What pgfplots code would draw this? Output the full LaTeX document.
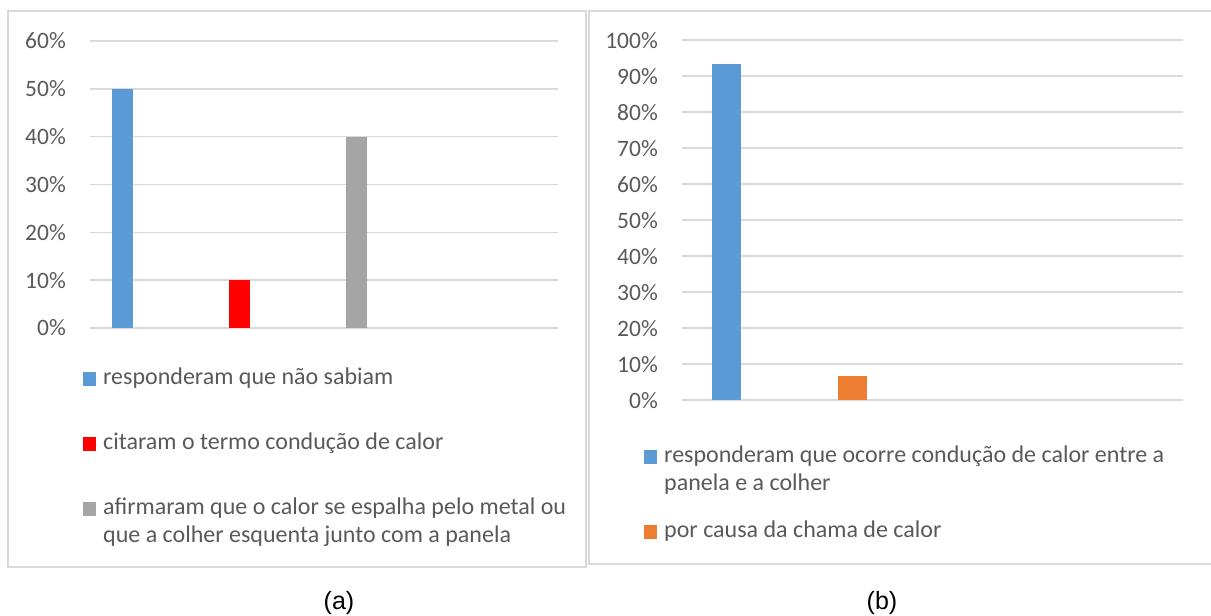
\documentclass[border=0pt]{standalone}
\usepackage{fontspec}
\setmainfont{Carlito}
\newfontfamily\arialfont{Liberation Sans}
\usepackage{pgfplots}
\pgfplotsset{compat=1.18}
\definecolor{cblue}{HTML}{5B9BD5}
\definecolor{cred}{HTML}{FF0000}
\definecolor{cgray}{HTML}{A5A5A5}
\definecolor{corange}{HTML}{ED7D31}
\definecolor{ctext}{HTML}{595959}
\definecolor{cgrid}{HTML}{D9D9D9}
\pgfplotsset{
  common/.style={
    scale only axis, anchor=south west, clip=false,
    ybar, bar shift=0pt,
    enlargelimits=false, ymin=0,
    axis line style={draw=none},
    xtick=\empty, major tick length=0pt,
    ymajorgrids, grid style={cgrid, line width=1.6pt},
    /pgf/number format/assume math mode=true,
    yticklabel={\pgfmathprintnumber{\tick}\%},
    yticklabel style={anchor=east, inner sep=0pt, xshift=-24pt, text=ctext, font=\fontsize{23.5}{28}\selectfont},
    legend image code/.code={\fill[##1,draw=none] (0pt,-7pt) rectangle (13pt,7pt);},
    legend cell align=left,
    legend style={draw=none, fill=none, inner sep=0pt, column sep=0pt, anchor=north west,
      font=\fontsize{24}{28}\selectfont, text=ctext,
      cells={anchor=west},
      nodes={inner xsep=7pt, inner ysep=0pt, text height=17pt, text depth=6pt}},
  }
}
\begin{document}
\begin{tikzpicture}[x=1pt,y=1pt]
\useasboundingbox (0,0) rectangle (1211,616);
% panel frames
\draw[cgrid, line width=2pt] (8,605) rectangle (586,49);
\draw[cgrid, line width=2pt] (1212,605) -- (589,605) -- (589,52) -- (1212,52);
% left chart
\begin{axis}[common, at={(90pt,288pt)}, width=468pt, height=287pt,
  xmin=90, xmax=558, ymax=60, ytick={0,10,...,60}, bar width=21,
  legend style={at={(-0.015,-0.136)}, row sep=42pt}]
\addplot[fill=cblue, draw=none] coordinates {(122,50)};
\addlegendentry{responderam que não sabiam}
\addplot[fill=cred, draw=none] coordinates {(239,10)};
\addlegendentry{citaram o termo condução de calor}
\addplot[fill=cgray, draw=none] coordinates {(356,40)};
\addlegendentry{\parbox[t]{500pt}{afirmaram que o calor se espalha pelo metal ou\\que a colher esquenta junto com a panela}}
\end{axis}
% right chart
\begin{axis}[common, at={(682pt,215.7pt)}, width=501pt, height=360pt,
  xmin=682, xmax=1183, ymax=100, ytick={0,10,...,100}, bar width=29,
  legend style={at={(-0.0758,-0.124)}, row sep=52pt}]
\addplot[fill=cblue, draw=none] coordinates {(726.5,93.3)};
\addlegendentry{\parbox[t]{530pt}{responderam que ocorre condução de calor entre a\\panela e a colher}}
\addplot[fill=corange, draw=none] coordinates {(852.5,6.7)};
\addlegendentry{por causa da chama de calor}
\end{axis}
\node[font=\arialfont\fontsize{25}{29}\selectfont, text=black] at (339,13) {(a)};
\node[font=\arialfont\fontsize{25}{29}\selectfont, text=black] at (882,13) {(b)};
\end{tikzpicture}
\end{document}
